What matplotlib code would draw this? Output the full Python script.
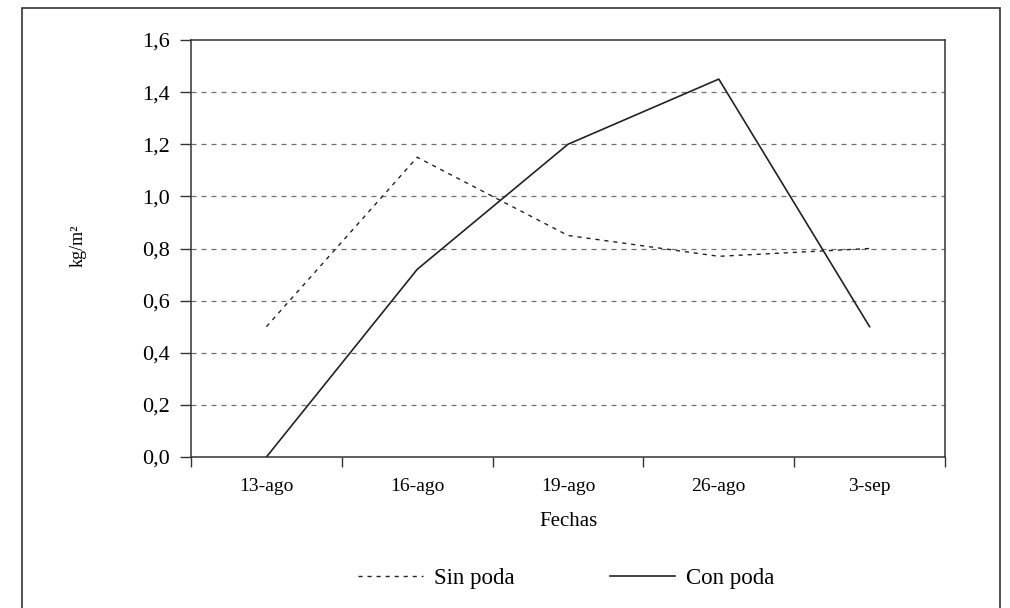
import numpy as np
import matplotlib
matplotlib.use("Agg")
import matplotlib.pyplot as plt
from matplotlib.lines import Line2D
from matplotlib.patches import Rectangle

# data
fechas = ["13-ago", "16-ago", "19-ago", "26-ago", "3-sep"]
sin_poda = [0.50, 1.15, 0.85, 0.77, 0.80]
con_poda = [0.00, 0.72, 1.20, 1.45, 0.50]
y_ticks = [0.0, 0.2, 0.4, 0.6, 0.8, 1.0, 1.2, 1.4, 1.6]

plt.rcParams['font.family'] = ['Liberation Serif', 'DejaVu Serif']

fig = plt.figure(figsize=(10.1, 6.08), dpi=100)
ax = fig.add_axes([191/1010, 1 - 457/608, (945-191)/1010, (457-40)/608])

x = np.arange(len(fechas))

# horizontal dashed grid
for v in y_ticks[1:-1]:
    ax.axhline(v, color='#707070', lw=0.9, dashes=(4, 4), zorder=1)

ax.plot(x, sin_poda, color='#222222', lw=1.0, dashes=(3, 3.5), label='Sin poda', zorder=3)
ax.plot(x, con_poda, color='#222222', lw=1.2, label='Con poda', zorder=3)

ax.set_xlim(-0.5, len(fechas) - 0.5)
ax.set_ylim(0, 1.6)

# category boundary ticks, labels centred in the middle
ax.set_xticks(np.arange(-0.5, len(fechas), 1.0))
ax.set_xticklabels([])
ax.set_xticks(x, minor=True)
ax.set_xticklabels(fechas, minor=True)
ax.tick_params(axis='x', which='major', direction='out', length=7, width=1, color='#333333')
ax.tick_params(axis='x', which='minor', length=0, pad=15, labelsize=14)

ax.set_yticks(y_ticks)
ax.set_yticklabels([f"{v:.1f}".replace('.', ',') for v in y_ticks])
ax.tick_params(axis='y', direction='out', length=8, width=1, color='#333333', labelsize=16, pad=7)

for s in ax.spines.values():
    s.set_color('#333333')
    s.set_linewidth(1.1)

fig.text(568/1010, 1 - 521/608, 'Fechas', fontsize=15, ha='center', va='center')
fig.text(78/1010, 1 - 246/608, 'kg/m²', fontsize=13, rotation=90, ha='center', va='center')

fig.legend(handles=[Line2D([], [], color='#222222', lw=1.0, dashes=(3, 3.5)),
                    Line2D([], [], color='#222222', lw=1.2)],
           labels=['Sin poda', 'Con poda'], loc='center', bbox_to_anchor=(566/1010, 1 - 578/608),
           ncol=2, frameon=False, fontsize=16.5, handlelength=2.85, columnspacing=4.15, handletextpad=0.48)

# outer frame of the original figure box
fig.patches.append(Rectangle((22/1010, -0.01), (1000-22)/1010, 1 - 8/608 + 0.01,
                             transform=fig.transFigure, fill=False, edgecolor='#333333', lw=1.2))

fig.savefig('out.png', dpi=100)
